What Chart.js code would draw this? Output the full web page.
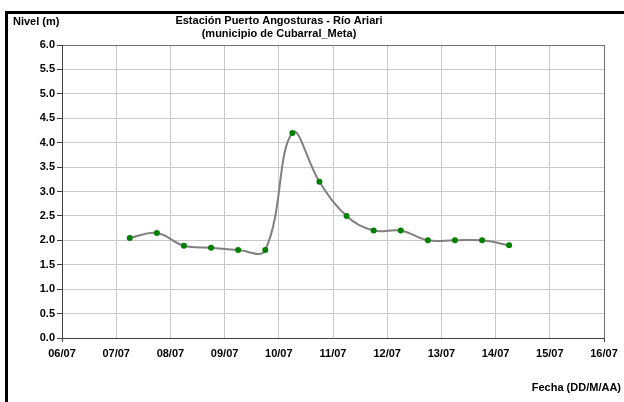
<!DOCTYPE html>
<html>
<head>
<meta charset="utf-8">
<script src="https://cdn.jsdelivr.net/npm/chart.js@4/dist/chart.umd.min.js"></script>
<style>
  html, body { margin: 0; padding: 0; background: #ffffff; }
  #wrap { position: relative; width: 624px; height: 402px; overflow: hidden; background: #fff; }
  #frame { position: absolute; left: 5px; top: 11px; width: 640px; height: 420px;
           border-left: 3px solid #000; border-top: 3px solid #000; box-sizing: border-box; }
  canvas { position: absolute; left: 0; top: 0; }
</style>
</head>
<body>
<div id="wrap">
  <div id="frame"></div>
  <canvas id="c" width="624" height="402"></canvas>
</div>
<script>
// ---- data ----
const titleLines = ["Estación Puerto Angosturas - Río Ariari", "(municipio de Cubarral_Meta)"];
const yAxisTitle = "Nivel (m)";
const xAxisTitle = "Fecha (DD/M/AA)";
const dateLabels = ["06/07","07/07","08/07","09/07","10/07","11/07","12/07","13/07","14/07","15/07","16/07"];
// days elapsed since 06/07 00:00 (readings at 06:00 and 18:00)
const dayOffsets = [1.25, 1.75, 2.25, 2.75, 3.25, 3.75, 4.25, 4.75, 5.25, 5.75, 6.25, 6.75, 7.25, 7.75, 8.25];
const levels     = [2.05, 2.15, 1.89, 1.85, 1.80, 1.80, 4.20, 3.20, 2.50, 2.20, 2.20, 2.00, 2.00, 2.00, 1.90];

const FONT = "'Liberation Sans', Arial, sans-serif";

const textPlugin = {
  id: 'texts',
  afterDraw(chart) {
    const ctx = chart.ctx;
    ctx.save();
    ctx.fillStyle = '#000';
    ctx.font = 'bold 11px ' + FONT;
    ctx.textBaseline = 'middle';
    ctx.textAlign = 'left';
    ctx.fillText(yAxisTitle, 13, 22);
    ctx.textAlign = 'center';
    ctx.fillText(titleLines[0], 279, 21);
    ctx.fillText(titleLines[1], 279, 34);
    ctx.textAlign = 'right';
    ctx.fillText(xAxisTitle, 621, 388);
    ctx.restore();
  }
};

new Chart(document.getElementById('c'), {
  type: 'line',
  data: {
    datasets: [{
      data: dayOffsets.map((d, i) => ({ x: d, y: levels[i] })),
      borderColor: '#808080',
      borderWidth: 2,
      tension: 0.4,
      pointRadius: 3,
      pointBackgroundColor: '#008000',
      pointBorderColor: '#008000',
      pointBorderWidth: 0,
      fill: false
    }]
  },
  options: {
    responsive: false,
    animation: false,
    layout: { padding: { left: 0, right: 20, top: 45, bottom: 0 } },
    plugins: { legend: { display: false }, tooltip: { enabled: false }, title: { display: false } },
    scales: {
      x: {
        type: 'linear',
        min: 0, max: 10,
        afterFit(s) { s.height = 64; },
        afterBuildTicks(s) { s.ticks = dateLabels.map((_, i) => ({ value: i })); },
        ticks: {
          autoSkip: false, maxRotation: 0, padding: 5,
          color: '#000',
          font: { family: FONT, size: 11, weight: 'bold' },
          callback: (v) => dateLabels[v]
        },
        grid: {
          color: (c) => c.index === 10 ? '#707070' : '#c8c8c8',
          tickColor: (c) => (c.index === 0 || c.index === 10) ? '#404040' : 'rgba(0,0,0,0)',
          tickLength: 4,
          lineWidth: 1
        },
        border: { color: '#404040', width: 1 }
      },
      y: {
        min: 0, max: 6,
        afterFit(s) { s.width = 62; },
        ticks: {
          stepSize: 0.5, padding: 2,
          color: '#000',
          font: { family: FONT, size: 11, weight: 'bold' },
          callback: (v) => Number(v).toFixed(1)
        },
        grid: {
          color: (c) => c.tick && c.tick.value === 6 ? '#707070' : '#c8c8c8',
          tickColor: '#404040',
          tickLength: 5,
          lineWidth: 1
        },
        border: { color: '#404040', width: 1 }
      }
    }
  },
  plugins: [textPlugin]
});
</script>
</body>
</html>
